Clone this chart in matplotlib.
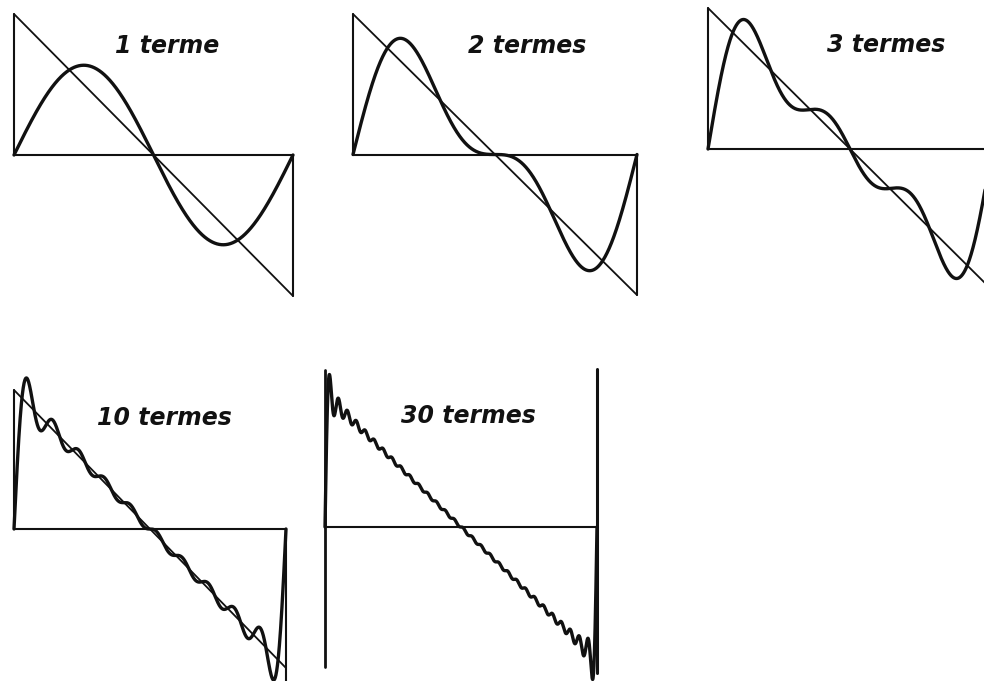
import numpy as np
import matplotlib.pyplot as plt

# number of Fourier terms kept in each partial sum
term_counts = [1, 2, 3, 10, 30]
titles = ["1 terme", "2 termes", "3 termes", "10 termes", "30 termes"]

W, H = 984, 681
# panel boxes in pixels: left, right, top, bottom of the [0, 2pi] x [-pi/2, pi/2] frame
boxes = [
    (14, 293, 14, 296),
    (353, 637, 14, 295),
    (708, 992, 8, 290),
    (14, 286, 390, 668),
    (325, 597, 394, 660),
]
# title anchor (center x, baseline y) in pixels
title_pos = [(167, 53), (527, 53), (886, 52), (164, 425), (468, 423)]

INK = "#111111"


def partial_sum(x, n_terms):
    n = np.arange(1, n_terms + 1)[:, None]
    return (np.sin(n * x) / n).sum(axis=0)


fig = plt.figure(figsize=(W / 100, H / 100), dpi=100)
fig.patch.set_facecolor("white")

x = np.linspace(0, 2 * np.pi, 3000)
half = np.pi / 2

for i, (n_terms, (l, r, t, b)) in enumerate(zip(term_counts, boxes)):
    ax = fig.add_axes([l / W, 1 - b / H, (r - l) / W, (b - t) / H])
    ax.set_xlim(0, 2 * np.pi)
    ax.set_ylim(-half, half)
    ax.axis("off")

    kw = dict(color=INK, clip_on=False, solid_capstyle="round")
    # horizontal axis
    ax.plot([0, 2 * np.pi], [0, 0], lw=1.5, **kw)
    if n_terms < 30:
        # frame of the sawtooth and the sawtooth itself
        low = -1.1 * half if n_terms >= 10 else -half
        ax.plot([0, 0], [0, half], lw=1.5, **kw)
        ax.plot([2 * np.pi, 2 * np.pi], [0, low], lw=1.5, **kw)
        ax.plot([0, 2 * np.pi], [half, -half], lw=1.3, **kw)
    else:
        ax.plot([0, 0], [1.18 * half, -1.05 * half], lw=2.0, **kw)
        ax.plot([2 * np.pi, 2 * np.pi], [1.19 * half, -1.1 * half], lw=2.2, **kw)
    ax.plot(x, partial_sum(x, n_terms), lw=2.4, **kw)

for title, (cx, by) in zip(titles, title_pos):
    fig.text(cx / W, 1 - by / H, title, ha="center", va="baseline",
             fontsize=17, fontweight="bold", fontstyle="italic",
             family="DejaVu Sans", color=INK)

fig.savefig("out.png", dpi=100, facecolor="white")
